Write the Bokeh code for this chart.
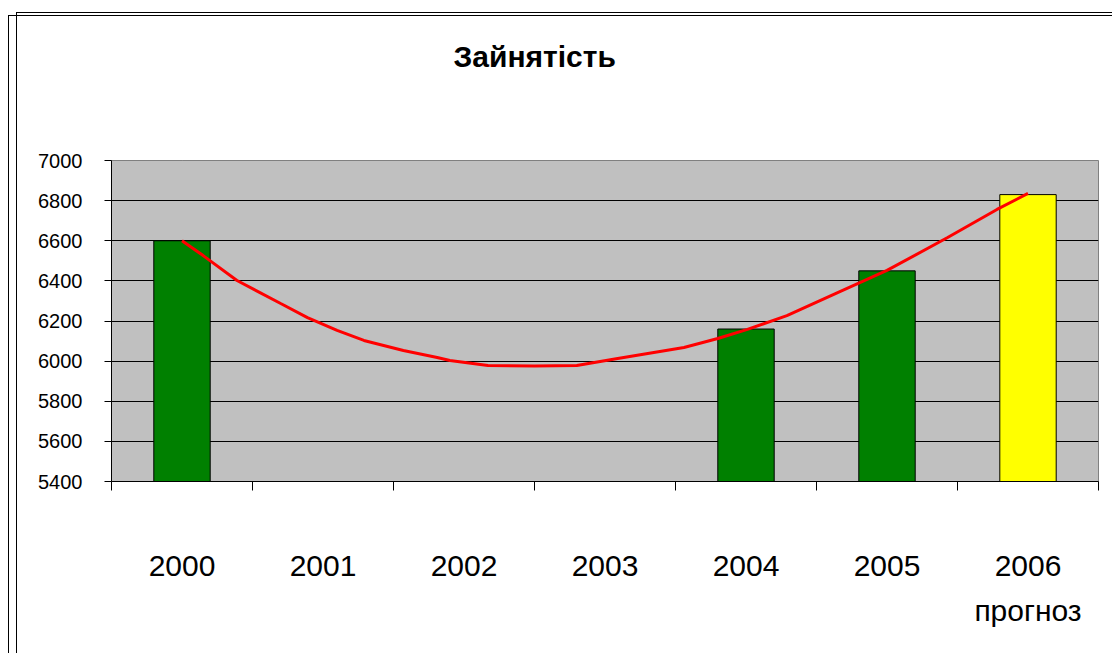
from bokeh.plotting import figure
from bokeh.models import Range1d, FixedTicker, LinearAxis, Title
from bokeh.embed import file_html
from bokeh.resources import INLINE

# ---- data ----
title_text = "Зайнятість"
years = [2000, 2001, 2002, 2003, 2004, 2005, 2006]
year_labels = ["2000", "2001", "2002", "2003", "2004", "2005", "2006\nпрогноз"]
bar_years = [2000, 2004, 2005, 2006]
bar_values = [6600, 6160, 6450, 6830]
bar_colors = ["#008000", "#008000", "#008000", "#FFFF00"]
y_ticks = [5400, 5600, 5800, 6000, 6200, 6400, 6600, 6800, 7000]
trend_x = [2000.0, 2000.15, 2000.39, 2000.70, 2000.89, 2001.10, 2001.29, 2001.57,
           2001.81, 2001.90, 2002.17, 2002.50, 2002.80, 2003.09, 2003.56, 2003.80,
           2004.01, 2004.29, 2004.65, 2005.00, 2005.43, 2005.78, 2006.0]
trend_y = [6600, 6526, 6402, 6287, 6217, 6153, 6103, 6053,
           6018, 6003, 5978, 5976, 5978, 6013, 6068, 6113,
           6158, 6227, 6342, 6452, 6616, 6756, 6836]

FONT = "Liberation Sans"

p = figure(width=1112, height=653, output_backend="svg", toolbar_location=None, title=None,
           x_range=Range1d(years[0] - 0.5, years[-1] + 0.5),
           y_range=Range1d(y_ticks[0], y_ticks[-1]),
           min_border_left=111, min_border_right=14, min_border_top=160, min_border_bottom=172)

p.background_fill_color = "#C0C0C0"
p.border_fill_color = None
p.outline_line_color = "#808080"
p.outline_line_width = 1

# double, offset chart border (drawn with CSS behind the transparent canvas)
p.styles = {
    "background-color": "white",
    "background-image": "linear-gradient(#000,#000), linear-gradient(#000,#000), "
                        "linear-gradient(#000,#000), linear-gradient(#000,#000)",
    "background-position": "8px 15px, 8px 15px, 16px 12px, 16px 12px",
    "background-size": "1px 2000px, 2000px 1px, 1px 2000px, 2000px 1px",
    "background-repeat": "no-repeat",
}

# main axes (grab them before adding the spacer axis)
xa = p.below[0]
ya = p.left[0]

# invisible spacer panel between the title and the plot area (hairline white tick)
spacer = LinearAxis(ticker=FixedTicker(ticks=[years[0]], minor_ticks=[]),
                    major_label_overrides={years[0]: ""},
                    axis_line_color=None,
                    major_tick_line_color="white", major_tick_line_width=0.1,
                    minor_tick_line_color=None,
                    major_tick_out=83, major_tick_in=0, minor_tick_out=0,
                    major_label_standoff=0, major_label_text_font_size="1px")
p.add_layout(spacer, "above")

# title (added after the spacer, so it sits above it)
p.add_layout(Title(text=title_text, text_font=FONT, text_font_size="30px",
                   text_font_style="bold", text_color="black",
                   align="left", offset=342, standoff=10), "above")

# grid
p.xgrid.visible = False
p.ygrid.ticker = FixedTicker(ticks=y_ticks[1:-1])
p.ygrid.grid_line_color = "black"
p.ygrid.grid_line_width = 1

# y axis
ya.ticker = FixedTicker(ticks=y_ticks, minor_ticks=[])
ya.axis_line_color = "black"
ya.major_tick_line_color = "black"
ya.major_tick_out = 7
ya.major_tick_in = 0
ya.minor_tick_line_color = None
ya.major_label_standoff = 22
ya.major_label_text_font = FONT
ya.major_label_text_font_size = "20px"
ya.major_label_text_color = "black"

# x axis
boundaries = [y - 0.5 for y in years] + [years[-1] + 0.5]
xa.ticker = FixedTicker(ticks=years, minor_ticks=boundaries)
xa.major_label_overrides = {y: lab for y, lab in zip(years, year_labels)}
xa.axis_line_color = "black"
xa.major_tick_line_color = None
xa.major_tick_out = 0
xa.major_tick_in = 0
xa.minor_tick_line_color = "black"
xa.minor_tick_out = 9
xa.minor_tick_in = 0
xa.major_label_standoff = 58
xa.major_label_text_font = FONT
xa.major_label_text_font_size = "30px"
xa.major_label_text_color = "black"
xa.major_label_text_line_height = 1.37

# bars
p.vbar(x=bar_years, top=bar_values, bottom=y_ticks[0], width=0.4,
       fill_color=bar_colors, line_color="black", line_width=1)

# trend line
p.line(trend_x, trend_y, line_color="#FF0000", line_width=3)

open("out.html", "w").write(file_html(p, INLINE))
